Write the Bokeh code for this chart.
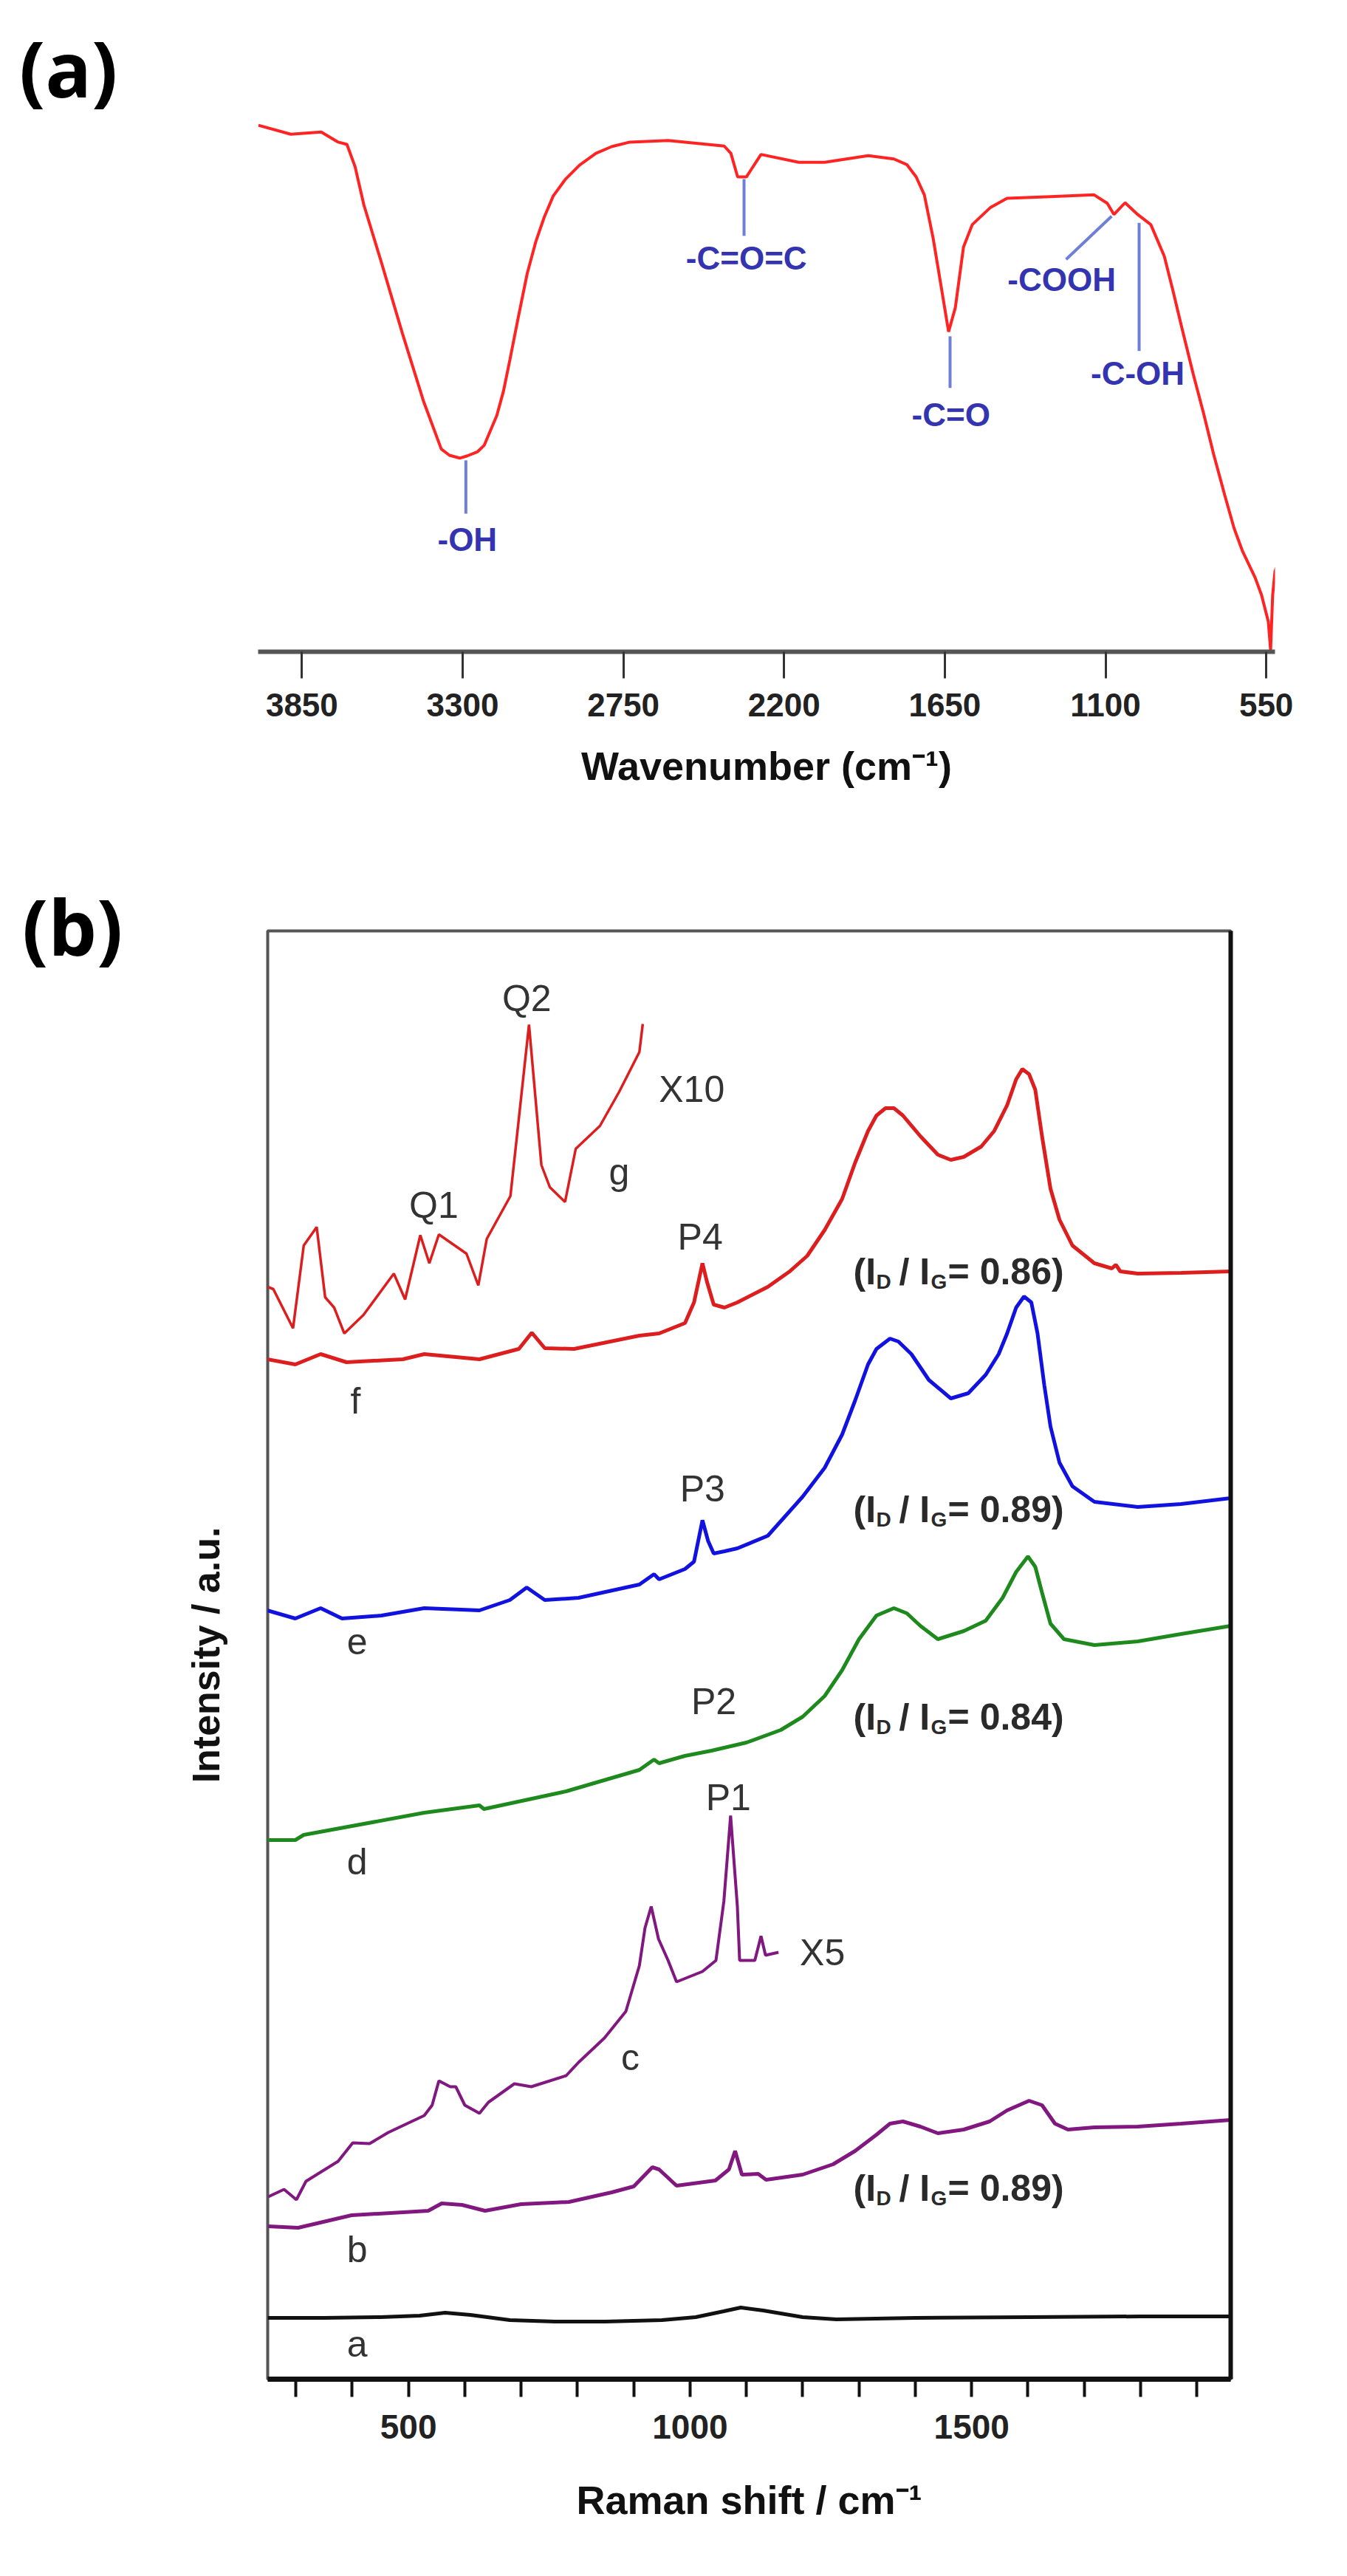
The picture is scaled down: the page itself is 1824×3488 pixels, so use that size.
from bokeh.plotting import figure
from bokeh.models import Range1d, FixedTicker, LinearAxis, ColumnDataSource, Div
from bokeh.layouts import column, row
from bokeh.embed import file_html
from bokeh.resources import INLINE
from bokeh.core.properties import value

FONT = "Liberation Sans"

# ---------------- panel (a): FTIR ----------------
ftir_wavenumber = [3999, 3888, 3784, 3726, 3696, 3668, 3638, 3580, 3506, 3433,
                   3373, 3345, 3310, 3284, 3250, 3226, 3183, 3160, 3138, 3110,
                   3079, 3050, 3021, 2990, 2948, 2900, 2844, 2790, 2728, 2597,
                   2405, 2382, 2359, 2329, 2279, 2150, 2061, 1912, 1824, 1780,
                   1748, 1720, 1690, 1660, 1637, 1614, 1586, 1556, 1495, 1437,
                   1288, 1139, 1094, 1071, 1033, 990, 945, 899, 870, 841,
                   800, 765, 730, 692, 660, 631, 588, 566, 543, 535,
                   528, 520, 515]
ftir_transmittance = [93.8, 92.2, 92.6, 90.8, 90.4, 86.4, 79.6, 69.7, 56.7, 44.5,
                      36.1, 35.0, 34.5, 34.9, 35.6, 36.8, 42.1, 46.5, 52.1, 59.5,
                      67.4, 73.0, 77.4, 81.2, 84.2, 86.7, 88.8, 90.0, 90.8, 91.1,
                      90.1, 88.8, 84.6, 84.6, 88.6, 87.2, 87.2, 88.4, 87.8, 86.8,
                      84.6, 81.4, 73.7, 64.3, 57.0, 61.3, 72.1, 76.1, 79.1, 80.8,
                      81.1, 81.4, 79.9, 77.9, 80.0, 77.9, 76.1, 70.5, 64.5, 58.2,
                      49.5, 42.6, 35.2, 27.9, 22.0, 17.9, 13.2, 10.1, 5.4, 0.3,
                      10.1, 14.3, 15.0]
ftir_ticks = [3850, 3300, 2750, 2200, 1650, 1100, 550]

ftir_band_names = ["-OH", "-C=O=C", "-C=O", "-COOH", "-C-OH"]
ftir_band_label_x = [3284, 2329, 1629, 1250, 990]
ftir_band_label_y = [20.0, 70.1, 42.2, 66.3, 49.6]
ftir_mark_x0 = [3289, 2337, 1632, 1079, 985]
ftir_mark_y0 = [34.1, 84.2, 56.2, 77.6, 76.4]
ftir_mark_x1 = [3289, 2337, 1632, 1235, 985]
ftir_mark_y1 = [24.6, 74.1, 47.0, 69.9, 53.6]

# ---------------- panel (b): Raman ----------------
raman_a_x = [250, 350, 450, 520, 565, 610, 680, 760, 850, 950, 1010, 1060, 1090, 1130, 1200, 1260, 1400, 1600, 1800, 1960]
raman_a_y = [8.3, 8.3, 8.4, 8.6, 9.0, 8.7, 8.0, 7.8, 7.8, 8.0, 8.4, 9.2, 9.7, 9.3, 8.4, 8.1, 8.3, 8.4, 8.5, 8.5]

raman_b_x = [251, 304, 399, 535, 559, 595, 636, 700, 785, 861,
             900, 933, 945, 976, 1045, 1069, 1080, 1092, 1121, 1135,
             1200, 1254, 1293, 1331, 1355, 1378, 1409, 1440, 1486, 1532,
             1563, 1602, 1625, 1648, 1671, 1718, 1795, 1872, 1960]
raman_b_y = [20.7, 20.5, 22.2, 22.8, 23.8, 23.6, 22.8, 23.7, 24.0, 25.3,
             26.1, 28.7, 28.4, 26.2, 26.9, 28.4, 30.9, 27.7, 27.8, 27.0,
             27.7, 29.1, 30.9, 33.1, 34.6, 34.9, 34.2, 33.3, 33.8, 34.9,
             36.4, 37.7, 37.1, 34.6, 33.8, 34.1, 34.2, 34.6, 35.1]

raman_c_x = [251, 279, 301, 318, 375, 401, 431, 464, 528, 542, 554, 574, 584, 600, 626, 642, 688, 718,
             780, 802, 848, 886, 910, 920, 931, 944, 961, 976, 1022, 1046, 1060, 1072, 1084, 1088,
             1115, 1126, 1134, 1157]
raman_c_y = [24.7, 25.7, 24.3, 26.8, 29.5, 32.0, 31.9, 33.4, 35.7, 37.1, 40.4, 39.6, 39.6, 37.1, 36.0, 37.5, 40.0, 39.6,
             41.1, 42.9, 46.2, 49.8, 56.0, 61.1, 64.0, 59.6, 56.7, 53.8, 55.2, 56.7, 64.7, 76.3, 64.0, 56.7,
             56.7, 60.0, 57.4, 57.8]

raman_d_x = [250, 299, 314, 528, 626, 634, 780, 910, 936, 945,
             991, 1038, 1100, 1161, 1200, 1239, 1270, 1300, 1331, 1362,
             1385, 1409, 1440, 1486, 1525, 1555, 1579, 1600, 1613, 1625,
             1640, 1664, 1718, 1795, 1872, 1960]
raman_d_y = [73.0, 73.0, 73.7, 76.7, 77.7, 77.2, 79.6, 82.5, 83.9, 83.4,
             84.4, 85.1, 86.2, 87.9, 89.7, 92.5, 96.0, 100.2, 103.4, 104.4,
             103.7, 102.0, 100.2, 101.3, 102.7, 105.8, 109.3, 111.4, 110.0, 106.5,
             102.3, 100.2, 99.4, 99.9, 100.9, 102.0]

raman_e_x = [249, 299, 344, 382, 452, 528, 626, 680, 710, 742,
             802, 910, 936, 945, 991, 1007, 1022, 1032, 1042, 1061,
             1084, 1138, 1200, 1239, 1270, 1293, 1316, 1331, 1355, 1370,
             1393, 1424, 1463, 1494, 1525, 1548, 1563, 1579, 1593, 1606,
             1617, 1629, 1640, 1656, 1679, 1718, 1795, 1872, 1960]
raman_e_y = [104.1, 103.0, 104.4, 103.0, 103.4, 104.4, 104.1, 105.5, 107.2, 105.5,
             105.8, 107.6, 109.0, 108.3, 109.7, 110.7, 116.3, 113.5, 111.8, 112.1,
             112.5, 114.2, 119.5, 123.4, 127.9, 132.5, 137.4, 139.5, 140.9, 140.5,
             138.8, 135.3, 132.8, 133.5, 136.0, 138.8, 141.6, 145.1, 146.6, 145.8,
             141.6, 134.6, 129.0, 124.1, 120.9, 118.8, 118.1, 118.5, 119.3]

raman_f_x = [249, 299, 344, 390, 490, 528, 626, 696, 719, 742,
             794, 910, 945, 991, 1007, 1022, 1030, 1042, 1061, 1084,
             1138, 1177, 1208, 1239, 1270, 1293, 1316, 1331, 1347, 1362,
             1378, 1409, 1440, 1463, 1486, 1517, 1540, 1563, 1579, 1590,
             1602, 1613, 1625, 1640, 1656, 1679, 1718, 1749, 1756, 1764,
             1795, 1872, 1960]
raman_f_y = [138.1, 137.4, 138.8, 137.7, 138.1, 138.8, 138.1, 139.5, 141.7, 139.6,
             139.5, 141.3, 141.6, 143.0, 145.8, 151.1, 148.6, 145.5, 145.1, 145.8,
             147.9, 150.0, 152.1, 155.6, 159.8, 164.7, 169.0, 171.1, 172.1, 172.1,
             171.1, 168.3, 165.8, 165.1, 165.5, 166.9, 169.0, 172.5, 176.0, 177.4,
             176.7, 174.6, 168.3, 161.2, 157.0, 153.5, 151.1, 150.4, 150.9, 150.0,
             149.7, 149.8, 150.0]

raman_g_x = [250, 260, 295, 314, 337, 352, 368, 386, 420, 474, 494, 521, 537, 554, 603, 624, 639, 681,
             693, 714, 736, 751, 778, 797, 840, 874, 910, 916]
raman_g_y = [147.9, 147.6, 142.3, 153.5, 156.0, 146.5, 145.1, 141.6, 144.1, 149.7, 146.2, 154.9, 151.1, 155.0,
             152.4, 148.1, 154.4, 160.2, 168.6, 183.4, 164.4, 161.4, 159.4, 166.6, 169.7, 174.3, 179.7, 183.5]

raman_ticks = [500, 1000, 1500]
raman_minor_ticks = [300, 400, 600, 700, 800, 900, 1100, 1200, 1300, 1400, 1600, 1700, 1800, 1900]

peak_labels = ["Q2", "X10", "Q1", "g", "P4", "f", "P3", "e", "P2", "d", "P1", "X5", "c", "b", "a"]
peak_label_x = [710, 1003, 545, 874, 1018, 406, 1022, 409, 1042, 409, 1068, 1235, 894, 409, 409]
peak_label_y = [187.0, 174.7, 159.0, 163.5, 154.7, 132.5, 120.6, 99.9, 91.8, 70.1, 78.8, 57.8, 43.6, 17.6, 4.8]

ratio_values = ["0.86", "0.89", "0.84", "0.89"]
ratio_x = [1290, 1290, 1290, 1290]
ratio_y = [150.0, 117.8, 89.7, 25.9]

PANEL_LABEL_W = 200


def panel_label(txt, pad_left, pad_top, height):
    html = ("<div style=\"padding-left:%dpx; padding-top:%dpx; font-family:'Open Sans', sans-serif; "
            "font-weight:bold; font-size:104px; line-height:120px; color:#000; white-space:nowrap;\">%s</div>"
            % (pad_left, pad_top, txt))
    return Div(text=html, width=PANEL_LABEL_W, height=height, margin=0)


# ================= figure (a) =================
pa = figure(width=1808 - PANEL_LABEL_W, height=1142, x_range=Range1d(4000, 520), y_range=Range1d(0, 100),
            output_backend="svg", toolbar_location=None, y_axis_location=None,
            min_border_left=349 - PANEL_LABEL_W, min_border_right=82, min_border_top=122, min_border_bottom=260,
            outline_line_color=None, background_fill_color="white", border_fill_color="white")
pa.grid.visible = False
pa.line(ftir_wavenumber, ftir_transmittance, line_color="#ff2424", line_width=4)
pa.segment(x0=ftir_mark_x0, y0=ftir_mark_y0, x1=ftir_mark_x1, y1=ftir_mark_y1,
           line_color="#6f7fd8", line_width=4)
pa.text(x=ftir_band_label_x, y=ftir_band_label_y, text=ftir_band_names,
        text_font=value(FONT), text_font_size="44px", text_font_style="bold",
        text_color="#3434b0", text_align="center", text_baseline="middle")
ax = pa.xaxis[0]
ax.ticker = FixedTicker(ticks=ftir_ticks)
ax.minor_tick_line_color = None
ax.major_tick_in = 0
ax.major_tick_out = 36
ax.major_tick_line_width = 3
ax.major_tick_line_color = "#333333"
ax.axis_line_width = 6
ax.axis_line_color = "#555555"
ax.major_label_text_font = FONT
ax.major_label_text_font_size = "44px"
ax.major_label_text_font_style = "bold"
ax.major_label_text_color = "#222222"
ax.major_label_standoff = 20
ax.axis_label = "Wavenumber (cm\u207b\u00b9)"
ax.axis_label_text_font = FONT
ax.axis_label_text_font_size = "54px"
ax.axis_label_text_font_style = "bold"
ax.axis_label_text_color = "#111111"
ax.axis_label_standoff = 34

# ================= figure (b) =================
pb = figure(width=1808 - PANEL_LABEL_W, height=2322, x_range=Range1d(250, 1960), y_range=Range1d(0, 196.1),
            output_backend="svg", toolbar_location=None, y_axis_location=None,
            min_border_left=362 - PANEL_LABEL_W, min_border_right=142, min_border_top=118, min_border_bottom=243,
            outline_line_color="#555555", outline_line_width=4,
            background_fill_color="white", border_fill_color="white")
pb.grid.visible = False

pb.line(raman_a_x, raman_a_y, line_color="#111111", line_width=5)
pb.line(raman_b_x, raman_b_y, line_color="#80187f", line_width=5)
pb.line(raman_c_x, raman_c_y, line_color="#80187f", line_width=4)
pb.line(raman_d_x, raman_d_y, line_color="#1e8a1e", line_width=5)
pb.line(raman_e_x, raman_e_y, line_color="#1212e0", line_width=5)
pb.line(raman_f_x, raman_f_y, line_color="#dc1e1e", line_width=5)
pb.line(raman_g_x, raman_g_y, line_color="#dc1e1e", line_width=3.5)

pb.text(x=peak_label_x, y=peak_label_y, text=peak_labels,
        text_font=value(FONT), text_font_size="50px", text_color="#333333",
        text_align="center", text_baseline="middle")

rsrc = ColumnDataSource(dict(x=ratio_x, y=ratio_y,
                             tail=["= " + v + ")" for v in ratio_values]))
common = dict(source=rsrc, text_font=value(FONT), text_font_style="bold",
              text_color="#2a2a2a", text_align="left", text_baseline="middle")
pb.text(x="x", y="y", text=value("(I"), text_font_size="50px", **common)
pb.text(x="x", y="y", text=value("D"), text_font_size="28px", x_offset=31, y_offset=14, **common)
pb.text(x="x", y="y", text=value("/ I"), text_font_size="50px", x_offset=62, **common)
pb.text(x="x", y="y", text=value("G"), text_font_size="28px", x_offset=105, y_offset=14, **common)
pb.text(x="x", y="y", text="tail", text_font_size="50px", x_offset=128, **common)

bx = pb.xaxis[0]
bx.ticker = FixedTicker(ticks=raman_ticks, minor_ticks=raman_minor_ticks)
bx.major_tick_in = 0
bx.major_tick_out = 24
bx.minor_tick_in = 0
bx.minor_tick_out = 24
bx.major_tick_line_width = 4
bx.minor_tick_line_width = 4
bx.major_tick_line_color = "#111111"
bx.minor_tick_line_color = "#111111"
bx.axis_line_width = 7
bx.axis_line_color = "#111111"
bx.major_label_text_font = FONT
bx.major_label_text_font_size = "46px"
bx.major_label_text_font_style = "bold"
bx.major_label_text_color = "#222222"
bx.major_label_standoff = 24
bx.axis_label = "Raman shift / cm\u207b\u00b9"
bx.axis_label_text_font = FONT
bx.axis_label_text_font_size = "54px"
bx.axis_label_text_font_style = "bold"
bx.axis_label_text_color = "#111111"
bx.axis_label_standoff = 50

ly = LinearAxis(ticker=FixedTicker(ticks=[]), axis_line_color=None,
                major_tick_line_color=None, minor_tick_line_color=None,
                major_label_text_font_size="0px",
                axis_label="Intensity / a.u.", axis_label_text_font=FONT,
                axis_label_text_font_size="52px", axis_label_text_font_style="bold",
                axis_label_text_color="#111111", axis_label_standoff=55)
pb.add_layout(ly, "left")

ry = LinearAxis(ticker=FixedTicker(ticks=[]), axis_line_color="#111111", axis_line_width=6,
                major_tick_line_color=None, minor_tick_line_color=None,
                major_label_text_font_size="0px")
pb.add_layout(ry, "right")

for fig in (pa, pb):
    try:
        fig.frame_align = False
    except Exception:
        pass

label_a = panel_label("(a)", 26, 32, 1142)
label_b = panel_label("(b)", 30, 52, 2322)

layout = column(row(label_a, pa, spacing=0), row(label_b, pb, spacing=0), spacing=0)
open("out.html", "w").write(file_html(layout, INLINE))
